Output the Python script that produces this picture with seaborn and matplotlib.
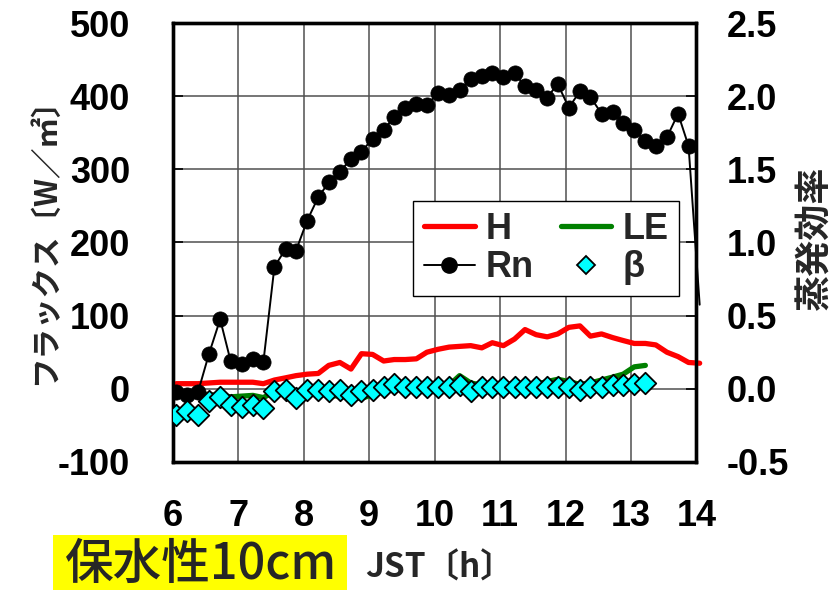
import matplotlib
matplotlib.use('Agg')
import matplotlib.pyplot as plt
import seaborn as sns
from matplotlib.patches import Rectangle
from matplotlib.lines import Line2D

# ---- data ----
time_h = [6.05, 6.22, 6.38, 6.55, 6.72, 6.88, 7.05, 7.22, 7.38, 7.55, 7.72, 7.88,
          8.05, 8.22, 8.38, 8.55, 8.72, 8.88, 9.05, 9.22, 9.38, 9.55, 9.72, 9.88,
          10.05, 10.22, 10.38, 10.55, 10.72, 10.88, 11.05, 11.22, 11.38, 11.55, 11.72, 11.88,
          12.05, 12.22, 12.38, 12.55, 12.72, 12.88, 13.05, 13.22, 13.38, 13.55, 13.72, 13.88,
          14.05]
rn = [-5, -8, -5, 48, 95, 38, 34, 41, 36, 167, 191, 189,
      230, 262, 282, 297, 314, 324, 342, 354, 371, 384, 389, 388,
      404, 402, 409, 423, 428, 431, 426, 431, 414, 409, 398, 417,
      384, 407, 399, 376, 379, 363, 354, 339, 332, 344, 376, 332,
      115]
h_flux = [7, 7, 7, 8, 9, 9, 9, 9, 7, 12, 15, 18,
          20, 21, 32, 36, 27, 48, 47, 38, 40, 40, 41, 50,
          54, 57, 58, 59, 56, 63, 59, 68, 81, 74, 71, 75,
          84, 86, 72, 75, 70, 66, 62, 62, 60, 50, 44, 36,
          35]
le_flux = [-5, -6, -7, -8, -9, -11, -10, -9, -12, -4, -3, -6,
           -6, -7, -9, -10, -12, -13, -8, 0, 2, 2, 3, 3,
           4, 5, 18, 8, 5, 5, 6, 7, 6, 6, 10, 13,
           10, 6, 8, 12, 16, 20, 30, 32]
beta = [-0.178, -0.155, -0.178, -0.08, -0.057, -0.114, -0.125, -0.11, -0.13, -0.012, -0.007, -0.064,
        -0.007, -0.007, -0.012, -0.007, -0.041, -0.012, -0.007, 0.011, 0.034, 0.011, 0.014, 0.014,
        0.011, 0.011, 0.023, -0.012, 0.011, 0.011, 0.011, 0.011, 0.011, 0.011, 0.011, 0.011,
        0.011, -0.005, 0.011, 0.011, 0.023, 0.023, 0.034, 0.041]
x_ticks = [6, 7, 8, 9, 10, 11, 12, 13, 14]
y_ticks_left = [-100, 0, 100, 200, 300, 400, 500]
y_ticks_right = [-0.5, 0.0, 0.5, 1.0, 1.5, 2.0, 2.5]
y_right_labels = ['-0.5', '0.0', '0.5', '1.0', '1.5', '2.0', '2.5']

sns.set_theme(style='white')
plt.rcParams['font.family'] = ['Liberation Sans', 'Noto Sans CJK JP', 'DejaVu Sans']
plt.rcParams['axes.unicode_minus'] = False
cjk = ['Noto Sans CJK JP', 'DejaVu Sans']

fig = plt.figure(figsize=(8.36, 5.9), dpi=100)
fig.patch.set_facecolor('white')
ax = fig.add_axes([0.207, 0.217, 0.626, 0.744])
ax2 = ax.twinx()

# lines on the flux axis
sns.lineplot(x=time_h, y=h_flux, ax=ax, color='#FF0000', lw=3.8, estimator=None, sort=False, zorder=3)
sns.lineplot(x=time_h[:len(le_flux)], y=le_flux, ax=ax, color='#008000', lw=3.8, estimator=None, sort=False, zorder=2)
sns.lineplot(x=time_h, y=rn, ax=ax, color='black', lw=1.4, estimator=None, sort=False, zorder=4)
for ln in ax.lines:
    ln.set_clip_on(False)
    ln.set_solid_capstyle('round')
    ln.set_solid_joinstyle('round')
sns.scatterplot(x=time_h[:48], y=rn[:48], ax=ax, color='black', s=120, marker='o',
                edgecolor='black', linewidth=0.5, zorder=5)

# beta on the right axis
sns.scatterplot(x=time_h[:len(beta)], y=beta, ax=ax2, color='#00FFFF', s=120, marker='D',
                edgecolor='black', linewidth=1.3, zorder=6)

ax.set_xlim(6, 14)
ax.set_ylim(-100, 500)
ax2.set_ylim(-0.5, 2.5)
ax.set_xticks(x_ticks)
ax.set_yticks(y_ticks_left)
ax.set_yticklabels([str(v) for v in y_ticks_left])
ax2.set_yticks(y_ticks_right)
ax2.set_yticklabels(y_right_labels)
ax.set_xticklabels([str(v) for v in x_ticks])
ax.set_xlabel('')
ax.set_ylabel('')
ax2.set_ylabel('')

ax.grid(True, color='#505050', lw=1.1)
ax.set_axisbelow(True)
ax.patch.set_alpha(0)
ax2.patch.set_alpha(0)

for a in (ax, ax2):
    for s in a.spines.values():
        s.set_visible(True)
        s.set_color('black')
        s.set_linewidth(2.4)

ax.tick_params(axis='x', direction='in', length=7, width=1.2, color='black', pad=27,
               labelsize=26, labelcolor='black')
ax.tick_params(axis='y', direction='in', length=7, width=1.2, color='black', pad=31,
               labelsize=26, labelcolor='black', left=True)
ax2.tick_params(axis='y', direction='in', length=7, width=1.2, color='black', pad=22,
                labelsize=26, labelcolor='black', right=True)
for lab in ax.get_xticklabels() + ax.get_yticklabels() + ax2.get_yticklabels():
    lab.set_fontweight('bold')
    lab.set_family(['Liberation Sans', 'DejaVu Sans'])

# axis titles
fig.text(45 / 836, 1 - 234 / 590, 'フラックス〔W／㎡〕', rotation=90, ha='center', va='center',
         fontsize=22, family=cjk, fontweight='bold')
fig.text(815 / 836, 1 - 238 / 590, '蒸発効率', rotation=90, ha='center', va='center',
         fontsize=26, family=cjk, fontweight='bold')
fig.text(440 / 836, 1 - 568 / 590, 'JST〔h〕', ha='center', va='center',
         fontsize=24, family=cjk, fontweight='bold')

# yellow label box
fig.patches.append(Rectangle((53 / 836, 0), (347 - 53) / 836, (590 - 535) / 590,
                             transform=fig.transFigure, facecolor='#FFFF00', edgecolor='none', zorder=0))
fig.text(201 / 836, 1 - 565 / 590, '保水性10cm', ha='center', va='center',
         fontsize=35, family=cjk, fontweight='medium')

# legend
handles = [
    Line2D([], [], color='#FF0000', lw=3.8, solid_capstyle='round'),
    Line2D([], [], color='black', lw=1.4, marker='o', markersize=11),
    Line2D([], [], color='#008000', lw=3.8, solid_capstyle='round'),
    Line2D([], [], color='none', marker='D', markersize=9, markerfacecolor='#00FFFF',
           markeredgecolor='black', markeredgewidth=1.3),
]
labels = ['H', 'Rn', 'LE', 'β']
leg = fig.legend(handles, labels, ncol=2, loc='upper right',
                 bbox_to_anchor=(679 / 836, 1 - 201 / 590), borderaxespad=0,
                 frameon=True, fancybox=False,
                 framealpha=1, edgecolor='black', handlelength=1.4, handletextpad=0.3,
                 columnspacing=0.75, labelspacing=0.1, borderpad=0.3,
                 prop={'family': 'Liberation Sans', 'weight': 'bold', 'size': 26})
leg.get_frame().set_linewidth(1.0)
leg.set_zorder(10)

fig.savefig('out.png', dpi=100)
